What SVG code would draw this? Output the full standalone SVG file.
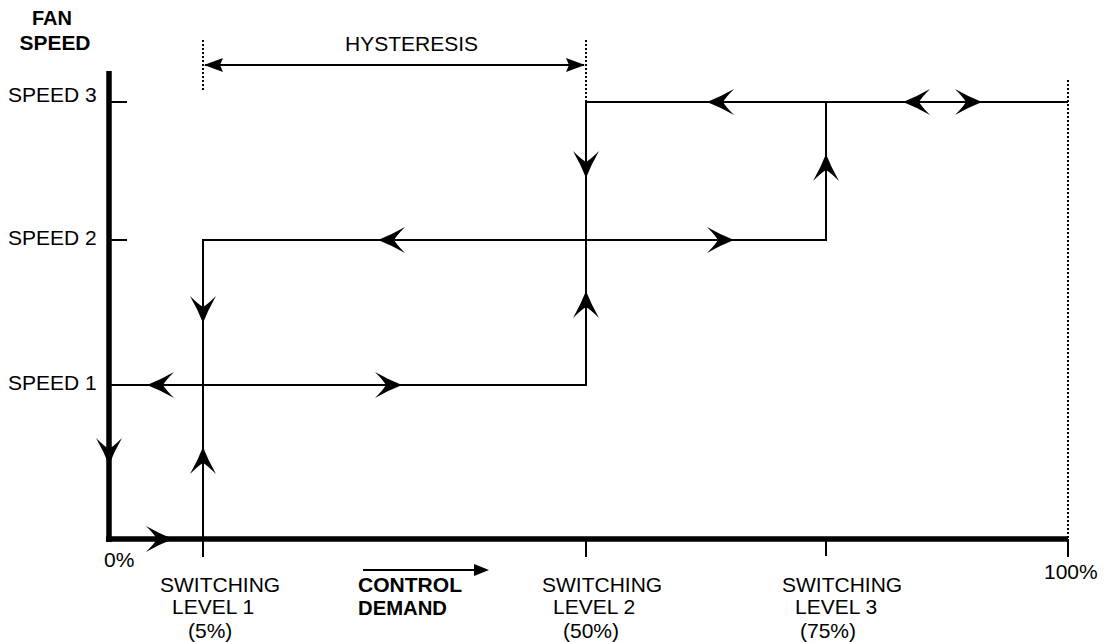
<svg xmlns="http://www.w3.org/2000/svg" xmlns:xlink="http://www.w3.org/1999/xlink" width="1104" height="642" viewBox="0 0 1104 642">
<style>
  .t { font-family: "Liberation Sans", Arial, sans-serif; font-size: 21px; fill: #000; }
  .b { font-weight: bold; font-size: 20px; }
  .ln { stroke: #000; stroke-width: 2; fill: none; }
  .ax { stroke: #000; stroke-width: 5.5; fill: none; }
  .dot { stroke: #000; stroke-width: 2; stroke-dasharray: 2 2; fill: none; }
</style>
<defs>
  <path id="ah" d="M0,0 Q-13,-5 -27,-13 Q-19,-5 -16,0 Q-19,5 -27,13 Q-13,5 0,0 Z" fill="#000"/>
  <path id="th" d="M0,0 L-19,-7 L-16,0 L-19,7 Z" fill="#000"/>
</defs>
<rect width="1104" height="642" fill="#fff"/>

<g id="axes">
  <line class="ax" x1="109" y1="71" x2="109" y2="542"/>
  <line class="ax" x1="106" y1="539" x2="1068" y2="539"/>
  <line class="ln" x1="109" y1="102" x2="127" y2="102"/>
  <line class="ln" x1="109" y1="240" x2="127" y2="240"/>
  <line class="ln" x1="203" y1="539" x2="203" y2="557"/>
  <line class="ln" x1="586" y1="539" x2="586" y2="557"/>
  <line class="ln" x1="826" y1="539" x2="826" y2="556"/>
  <line class="ln" x1="1068" y1="539" x2="1068" y2="557"/>
  <use xlink:href="#ah" href="#ah" transform="translate(109,465) rotate(90)"/>
  <use xlink:href="#ah" href="#ah" transform="translate(173,539)"/>
</g>

<g id="guides">
  <line class="dot" x1="203" y1="40" x2="203" y2="90"/>
  <line class="dot" x1="586" y1="40" x2="586" y2="102"/>
  <line class="dot" x1="1068" y1="80" x2="1068" y2="539"/>
  <line class="ln" x1="205" y1="65" x2="584" y2="65"/>
  <use xlink:href="#th" href="#th" transform="translate(204,65) rotate(180)"/>
  <use xlink:href="#th" href="#th" transform="translate(585,65)"/>
</g>

<g id="connectors">
  <path class="ln" d="M109,385 H586 V102 H1068"/>
  <path class="ln" d="M203,557 V240 H826 V102"/>
  <use xlink:href="#ah" href="#ah" transform="translate(147,385) rotate(180)"/>
  <use xlink:href="#ah" href="#ah" transform="translate(402,385)"/>
  <use xlink:href="#ah" href="#ah" transform="translate(378,240) rotate(180)"/>
  <use xlink:href="#ah" href="#ah" transform="translate(734,240)"/>
  <use xlink:href="#ah" href="#ah" transform="translate(707,102) rotate(180)"/>
  <use xlink:href="#ah" href="#ah" transform="translate(903,102) rotate(180)"/>
  <use xlink:href="#ah" href="#ah" transform="translate(982,102)"/>
  <use xlink:href="#ah" href="#ah" transform="translate(203,323) rotate(90)"/>
  <use xlink:href="#ah" href="#ah" transform="translate(203,447) rotate(-90)"/>
  <use xlink:href="#ah" href="#ah" transform="translate(586,178) rotate(90)"/>
  <use xlink:href="#ah" href="#ah" transform="translate(586,291) rotate(-90)"/>
  <use xlink:href="#ah" href="#ah" transform="translate(826,154) rotate(-90)"/>
</g>

<g id="control-demand">
  <line class="ln" x1="363" y1="570" x2="478" y2="570"/>
  <path d="M489,570 L474,564 L474,576 Z" fill="#000"/>
  <text class="t b" x="358" y="592" textLength="104" lengthAdjust="spacingAndGlyphs">CONTROL</text>
  <text class="t b" x="358" y="615" textLength="89" lengthAdjust="spacingAndGlyphs">DEMAND</text>
</g>

<g id="labels">
  <text class="t b" x="52" y="25" text-anchor="middle">FAN</text>
  <text class="t b" x="55" y="50" text-anchor="middle" textLength="71" lengthAdjust="spacingAndGlyphs">SPEED</text>
  <text class="t" x="8" y="102">SPEED 3</text>
  <text class="t" x="8" y="245">SPEED 2</text>
  <text class="t" x="8" y="390">SPEED 1</text>
  <text class="t" x="345" y="51">HYSTERESIS</text>
  <text class="t" x="104" y="567">0%</text>
  <text class="t" x="1044" y="579">100%</text>
</g>

<g id="level1">
  <text class="t" x="160" y="592">SWITCHING</text>
  <text class="t" x="172" y="614">LEVEL 1</text>
  <text class="t" x="188" y="638">(5%)</text>
</g>
<g id="level2">
  <text class="t" x="542" y="592">SWITCHING</text>
  <text class="t" x="553" y="614">LEVEL 2</text>
  <text class="t" x="563" y="638">(50%)</text>
</g>
<g id="level3">
  <text class="t" x="782" y="592">SWITCHING</text>
  <text class="t" x="795" y="614">LEVEL 3</text>
  <text class="t" x="800" y="638">(75%)</text>
</g>
</svg>
